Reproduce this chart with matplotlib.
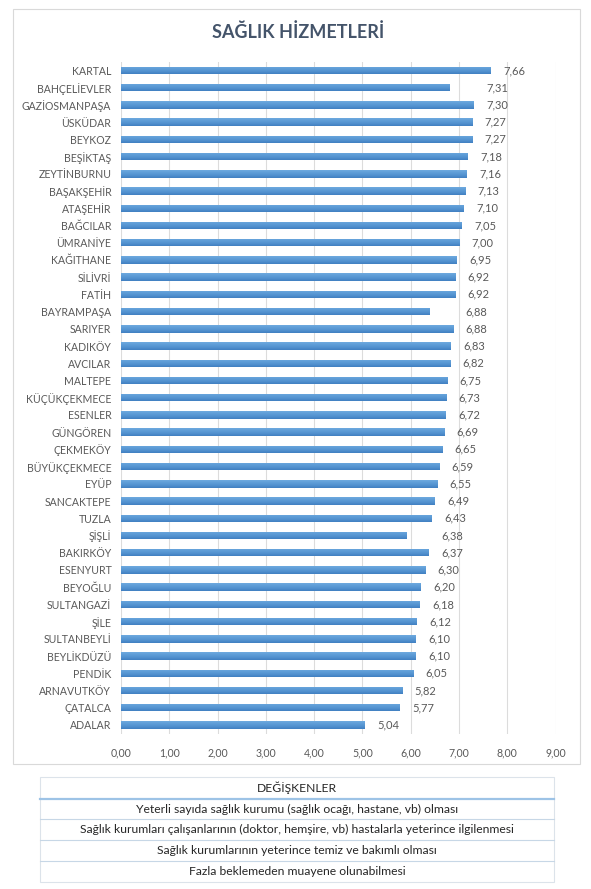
import numpy as np
import matplotlib
matplotlib.use("Agg")
import matplotlib.pyplot as plt
from matplotlib.colors import LinearSegmentedColormap
from matplotlib.patches import Rectangle

plt.rcParams['font.family'] = ['Lato', 'DejaVu Sans']

# districts, top to bottom
districts = ["KARTAL", "BAHÇELİEVLER", "GAZİOSMANPAŞA", "ÜSKÜDAR", "BEYKOZ", "BEŞİKTAŞ",
             "ZEYTİNBURNU", "BAŞAKŞEHİR", "ATAŞEHİR", "BAĞCILAR", "ÜMRANİYE", "KAĞITHANE",
             "SİLİVRİ", "FATİH", "BAYRAMPAŞA", "SARIYER", "KADIKÖY", "AVCILAR", "MALTEPE",
             "KÜÇÜKÇEKMECE", "ESENLER", "GÜNGÖREN", "ÇEKMEKÖY", "BÜYÜKÇEKMECE", "EYÜP",
             "SANCAKTEPE", "TUZLA", "ŞİŞLİ", "BAKIRKÖY", "ESENYURT", "BEYOĞLU", "SULTANGAZİ",
             "ŞİLE", "SULTANBEYLİ", "BEYLİKDÜZÜ", "PENDİK", "ARNAVUTKÖY", "ÇATALCA", "ADALAR"]

# printed data labels
label_values = [7.66, 7.31, 7.30, 7.27, 7.27, 7.18, 7.16, 7.13, 7.10, 7.05, 7.00, 6.95,
                6.92, 6.92, 6.88, 6.88, 6.83, 6.82, 6.75, 6.73, 6.72, 6.69, 6.65, 6.59,
                6.55, 6.49, 6.43, 6.38, 6.37, 6.30, 6.20, 6.18, 6.12, 6.10, 6.10, 6.05,
                5.82, 5.77, 5.04]

# bar lengths as drawn (three bars are shorter than their labels)
bar_values = [7.66, 6.80, 7.30, 7.27, 7.27, 7.18, 7.16, 7.13, 7.10, 7.05, 7.00, 6.95,
              6.92, 6.92, 6.39, 6.88, 6.83, 6.82, 6.75, 6.73, 6.72, 6.69, 6.65, 6.59,
              6.55, 6.49, 6.43, 5.92, 6.37, 6.30, 6.20, 6.18, 6.12, 6.10, 6.10, 6.05,
              5.82, 5.77, 5.04]

xticks = np.arange(0, 10, 1)

variables_header = "DEĞİŞKENLER"
variables = ["Yeterli sayıda sağlık kurumu (sağlık ocağı, hastane, vb) olması",
             "Sağlık kurumları çalışanlarının (doktor, hemşire, vb) hastalarla yeterince ilgilenmesi",
             "Sağlık kurumlarının yeterince temiz ve bakımlı olması",
             "Fazla beklemeden muayene olunabilmesi"]

text_grey = "#595959"

fig = plt.figure(figsize=(5.91, 8.89), dpi=100)

# chart border
fig.patches.append(Rectangle((0.0225, 0.1406), 0.9589, 0.8489, transform=fig.transFigure,
                             facecolor="white", edgecolor="#D9D9D9", lw=0.8, zorder=-5))

fig.text(0.504, 0.9635, "SAĞLIK HİZMETLERİ", ha="center", va="center",
         fontsize=13, fontweight="bold", color="#44546A")

ax = fig.add_axes([0.2047, 0.1748, 0.7355, 0.7556])
ax.set_facecolor("none")

ypos = np.arange(len(districts))
bar_h = 0.43
bars = ax.barh(ypos, bar_values, height=bar_h, color="none", zorder=3)

# excel-like vertical gradient on each bar
grad_cmap = LinearSegmentedColormap.from_list("bar", ["#6EA9DF", "#5E9DD7", "#5291CF", "#4180C1"])
grad = np.linspace(0, 1, 32).reshape(-1, 1)
for b, y, v in zip(bars, ypos, bar_values):
    im = ax.imshow(grad, extent=(0, v, y + bar_h / 2, y - bar_h / 2), cmap=grad_cmap,
                   aspect="auto", interpolation="bilinear", zorder=3)
    im.set_clip_path(b)

for y, v, lv in zip(ypos, bar_values, label_values):
    ax.annotate(f"{lv:.2f}".replace(".", ","), xy=(lv, y), xytext=(9, 0),
                textcoords="offset points", ha="left", va="center",
                fontsize=8, color=text_grey)

ax.set_xlim(0, 9)
ax.set_ylim(len(districts) - 0.5, -0.5)
ax.set_yticks(ypos)
ax.set_yticklabels(districts)
ax.set_xticks(xticks)
ax.set_xticklabels([f"{t:.2f}".replace(".", ",") for t in xticks])
ax.tick_params(axis="both", length=0, labelsize=7.6, labelcolor=text_grey)
ax.tick_params(axis="y", pad=7)
ax.tick_params(axis="x", pad=10)
ax.grid(axis="x", color="#DCDCDC", lw=0.8, zorder=0)
ax.set_axisbelow(True)
for s in ax.spines.values():
    s.set_visible(False)

# variables table
tax = fig.add_axes([0.0684, 1 - 882 / 889, 0.8686, 105 / 889])
tax.set_xlim(0, 1)
tax.set_ylim(5, 0)
tax.axis("off")
tax.add_patch(Rectangle((0, 0), 1, 5, facecolor="white", edgecolor="#DCE3EA", lw=0.8,
                        clip_on=False))
row_bounds = [0, 1.05, 2.0, 3.0, 4.0, 5.0]
tax.plot([0, 1], [row_bounds[1], row_bounds[1]], color="#9DC3E6", lw=1.6, clip_on=False)
for rb in row_bounds[2:-1]:
    tax.plot([0, 1], [rb, rb], color="#C7D7E6", lw=0.8, clip_on=False)
rows = [variables_header] + variables
for i, txt in enumerate(rows):
    yc = (row_bounds[i] + row_bounds[i + 1]) / 2
    tax.text(0.5, yc, txt, ha="center", va="center", fontsize=8.7, color="#262626")

fig.savefig("out.png", dpi=100, facecolor="white")
